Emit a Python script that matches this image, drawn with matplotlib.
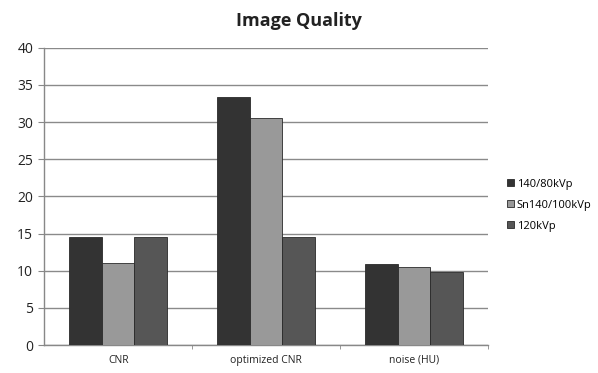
import numpy as np
import matplotlib
matplotlib.use('Agg')
import matplotlib.pyplot as plt

plt.rcParams['font.family'] = ['Open Sans', 'DejaVu Sans']

# Data
categories = ['CNR', 'optimized CNR', 'noise (HU)']
series_names = ['140/80kVp', 'Sn140/100kVp', '120kVp']
vals_140_80 = [14.5, 33.4, 10.9]
vals_sn140 = [11.0, 30.6, 10.5]
vals_120 = [14.5, 14.5, 9.8]
colors = ['#333333', '#999999', '#565656']

fig = plt.figure(figsize=(5.98, 3.73), dpi=100)
ax = fig.add_axes([0.074, 0.075, 0.742, 0.797])

x = np.arange(len(categories))
w = 0.22
for i, (vals, name, c) in enumerate(zip([vals_140_80, vals_sn140, vals_120], series_names, colors)):
    ax.bar(x + (i - 1) * w, vals, width=w, color=c, edgecolor='#2a2a2a', linewidth=0.6,
           label=name, zorder=3)

ax.set_xlim(-0.5, 2.5)
ax.set_ylim(0, 40)
ax.set_yticks(range(0, 41, 5))
ax.yaxis.grid(True, color='#8a8a8a', linewidth=1.0, zorder=0)
ax.set_xticks(x)
ax.set_xticklabels(categories, fontsize=7.5, color='#222222')
ax.set_xticks([0.5, 1.5, 2.5], minor=True)
ax.tick_params(axis='x', which='major', length=0, pad=7)
ax.tick_params(axis='x', which='minor', length=3, color='#888888', direction='out')
ax.tick_params(axis='y', length=4, color='#888888', labelsize=10, labelcolor='#222222', pad=4)

for s in ['top', 'right']:
    ax.spines[s].set_visible(False)
ax.spines['left'].set_color('#888888')
ax.spines['bottom'].set_color('#888888')
ax.spines['left'].set_linewidth(1.0)
ax.spines['bottom'].set_linewidth(1.0)

fig.text(0.5, 0.945, 'Image Quality', ha='center', va='center', fontsize=13,
         fontweight='bold', color='#222222')

ax.legend(loc='center left', bbox_to_anchor=(1.02, 0.47), frameon=False, fontsize=8,
          handlelength=0.6, handleheight=0.6, handletextpad=0.3, labelspacing=0.9)

fig.savefig('out.png', dpi=100)
